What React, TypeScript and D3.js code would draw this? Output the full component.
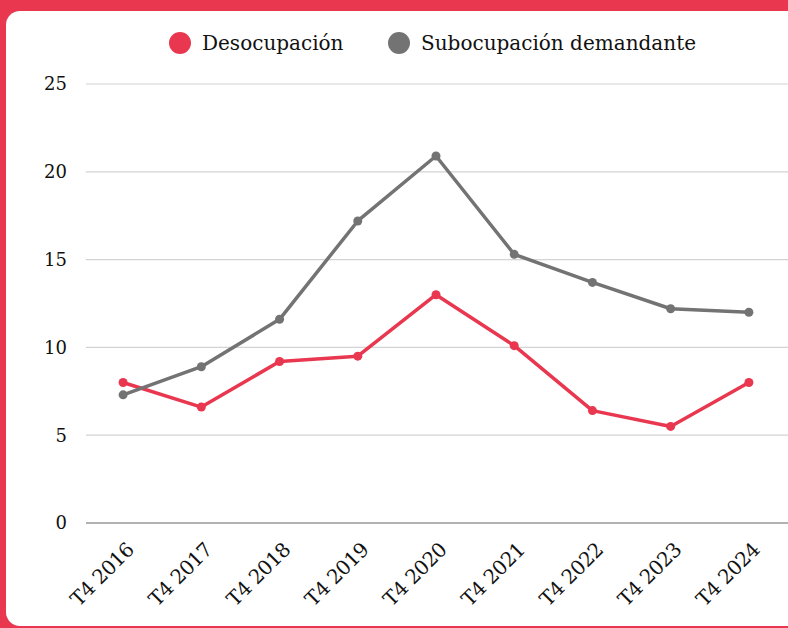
import React, { useEffect, useRef } from 'react';
import * as d3 from 'd3';

const quarters = ['T4 2016', 'T4 2017', 'T4 2018', 'T4 2019', 'T4 2020', 'T4 2021', 'T4 2022', 'T4 2023', 'T4 2024'];
const desocupacion = [8.0, 6.6, 9.2, 9.5, 13.0, 10.1, 6.4, 5.5, 8.0];
const subocupacion = [7.3, 8.9, 11.6, 17.2, 20.9, 15.3, 13.7, 12.2, 12.0];
const yTicks = [0, 5, 10, 15, 20, 25];

const RED = '#e8374f';
const GRAY = '#737373';
const FONT = '"DejaVu Serif", serif';

const App: React.FC = () => {
  const svgRef = useRef<SVGSVGElement>(null);

  useEffect(() => {
    document.body.style.margin = '0';
    if (!svgRef.current) return;

    const width = 788;
    const height = 628;
    const svg = d3.select(svgRef.current);
    svg.selectAll('*').remove();
    svg.attr('width', width).attr('height', height).attr('viewBox', `0 0 ${width} ${height}`);

    // red frame + white card
    svg.append('rect').attr('width', width).attr('height', height).attr('fill', RED);
    svg
      .append('rect')
      .attr('x', 6)
      .attr('y', 11)
      .attr('width', 800)
      .attr('height', 615)
      .attr('rx', 14)
      .attr('fill', '#ffffff');

    const x = d3.scalePoint<string>().domain(quarters).range([84, 788]).padding(0.5);
    const y = d3.scaleLinear().domain([0, 25]).range([523, 84]);

    const grid = svg.append('g');
    yTicks.forEach((t) => {
      grid
        .append('line')
        .attr('x1', 86)
        .attr('x2', width)
        .attr('y1', y(t))
        .attr('y2', y(t))
        .attr('stroke', t === 0 ? '#666666' : '#d3d3d3')
        .attr('stroke-width', 1.2);
      grid
        .append('text')
        .attr('x', 67)
        .attr('y', y(t))
        .attr('dy', '0.35em')
        .attr('text-anchor', 'end')
        .attr('font-family', FONT)
        .attr('font-size', '18px')
        .attr('fill', '#111111')
        .text(String(t));
    });

    quarters.forEach((q) => {
      const px = (x(q) || 0) + 12;
      svg
        .append('text')
        .attr('transform', `translate(${px}, 551) rotate(-45)`)
        .attr('text-anchor', 'end')
        .attr('font-family', FONT)
        .attr('font-size', '20px')
        .attr('letter-spacing', '-0.5px')
        .attr('fill', '#111111')
        .text(q);
    });

    const series = [
      { name: 'Desocupación', values: desocupacion, color: RED },
      { name: 'Subocupación demandante', values: subocupacion, color: GRAY }
    ];

    const line = d3
      .line<number>()
      .x((_, i) => x(quarters[i]) || 0)
      .y((d) => y(d));

    series.forEach((s) => {
      const g = svg.append('g');
      g.append('path')
        .attr('d', line(s.values) || '')
        .attr('fill', 'none')
        .attr('stroke', s.color)
        .attr('stroke-width', 3.5)
        .attr('stroke-linejoin', 'round');
      g.selectAll('circle')
        .data(s.values)
        .enter()
        .append('circle')
        .attr('cx', (_, i) => x(quarters[i]) || 0)
        .attr('cy', (d) => y(d))
        .attr('r', 4.5)
        .attr('fill', s.color);
    });

    // legend
    const legend = svg.append('g').attr('transform', 'translate(180, 43)');
    const legendX = [0, 219];
    series.forEach((s, i) => {
      const item = legend.append('g').attr('transform', `translate(${legendX[i]}, 0)`);
      item.append('circle').attr('r', 11).attr('fill', s.color);
      item
        .append('text')
        .attr('x', 22)
        .attr('dy', '0.35em')
        .attr('font-family', FONT)
        .attr('font-size', '20px')
        .attr('fill', '#111111')
        .text(s.name);
    });
  }, []);

  return (
    <div style={{ width: 788, height: 628 }}>
      <svg ref={svgRef} style={{ display: 'block' }} />
    </div>
  );
};

export default App;
